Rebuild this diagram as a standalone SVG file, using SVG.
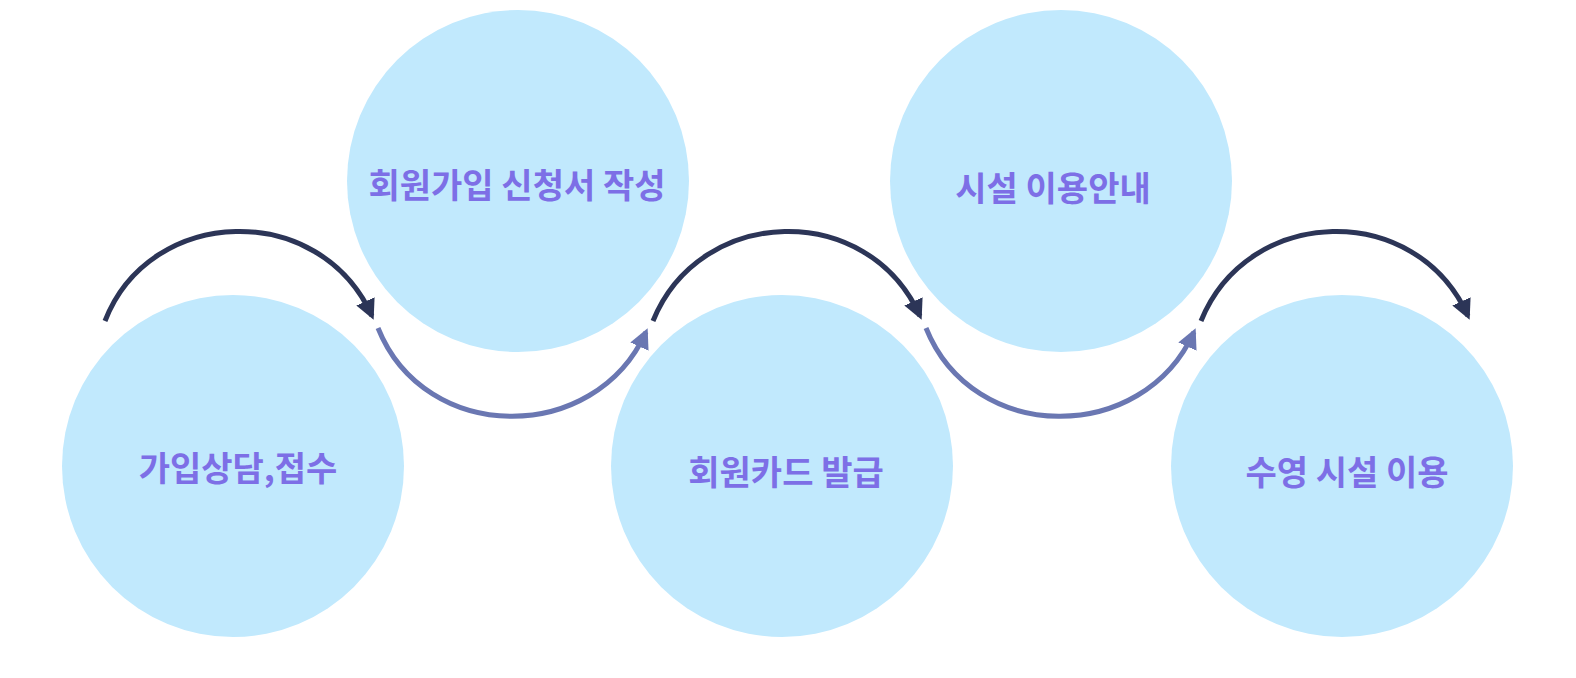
<svg xmlns="http://www.w3.org/2000/svg" width="1576" height="678" viewBox="0 0 1576 678">
<defs>
<style>
.c{fill:#c1e9fd}
.t{font-family:"Noto Sans CJK KR","Noto Sans",sans-serif;font-weight:bold;font-size:34px;fill:#7d6fe6;text-anchor:middle;dominant-baseline:central}
.d{fill:none;stroke:#2c3557;stroke-width:5}
.l{fill:none;stroke:#6a77b2;stroke-width:5}
</style>
<marker id="ad" viewBox="0 0 10 10" refX="8" refY="5" markerWidth="4" markerHeight="4" orient="auto"><path d="M0,0L10,5L0,10z" fill="#2c3557"/></marker>
<marker id="al" viewBox="0 0 10 10" refX="8" refY="5" markerWidth="4" markerHeight="4" orient="auto"><path d="M0,0L10,5L0,10z" fill="#6a77b2"/></marker>
</defs>
<rect width="1576" height="678" fill="#fff"/>
<g id="n1"><circle class="c" cx="233" cy="466" r="171"/><text class="t" x="238" y="466">가입상담,접수</text></g>
<g id="n2"><circle class="c" cx="518" cy="181" r="171"/><text class="t" x="517" y="183">회원가입 신청서 작성</text></g>
<g id="n3"><circle class="c" cx="782" cy="466" r="171"/><text class="t" x="786" y="470">회원카드 발급</text></g>
<g id="n4"><circle class="c" cx="1061" cy="181" r="171"/><text class="t" x="1053" y="186">시설 이용안내</text></g>
<g id="n5"><circle class="c" cx="1342" cy="466" r="171"/><text class="t" x="1347" y="470">수영 시설 이용</text></g>
<g id="connectors">
<path class="d" marker-end="url(#ad)" d="M105,321 C150,205 320,200 372,316"/>
<path class="l" marker-end="url(#al)" d="M378,328 C425,445 595,445 646,332"/>
<path class="d" marker-end="url(#ad)" d="M653,321 C700,205 868,200 920,316"/>
<path class="l" marker-end="url(#al)" d="M926,328 C973,445 1143,445 1194,332"/>
<path class="d" marker-end="url(#ad)" d="M1201,321 C1248,205 1416,200 1468,316"/>
</g>
</svg>
